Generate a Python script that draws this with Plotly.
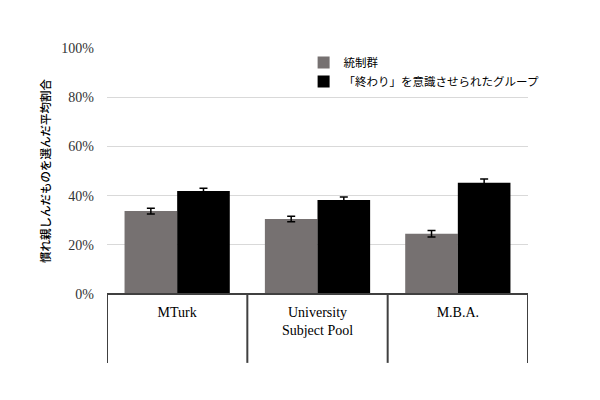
import plotly.graph_objects as go

# %% Data
categories = ['MTurk', 'University<br>Subject Pool', 'M.B.A.']
control_name = '統制群'
ending_name = '「終わり」を意識させられたグループ'
control_values = [0.337, 0.305, 0.245]
control_err = [0.012, 0.011, 0.013]
ending_values = [0.419, 0.382, 0.452]
ending_err = [0.011, 0.012, 0.015]

serif = 'Liberation Serif, Times New Roman, serif'
cjk = 'Noto Sans CJK JP, sans-serif'
line_color = '#404040'

# %% Figure
fig = go.Figure()
fig.add_trace(
    go.Bar(
        x=categories,
        y=control_values,
        name=control_name,
        marker=dict(color='#767171', line=dict(width=0)),
        error_y=dict(type='data', array=control_err, color='black', thickness=1.5, width=4),
    )
)
fig.add_trace(
    go.Bar(
        x=categories,
        y=ending_values,
        name=ending_name,
        marker=dict(color='black', line=dict(width=0)),
        error_y=dict(type='data', array=ending_err, color='black', thickness=1.5, width=4),
    )
)

# table-like frame under the bars
for i in range(len(categories) + 1):
    fig.add_shape(type='line', xref='x', yref='paper', x0=i - 0.5, x1=i - 0.5, y0=0, y1=-0.28,
                  line=dict(color=line_color, width=2))
fig.add_shape(type='line', xref='x', yref='paper', x0=-0.5, x1=len(categories) - 0.5, y0=0, y1=0,
              line=dict(color=line_color, width=2))

# the page adds an 8px body margin, so margins are shifted to compensate
fig.update_layout(
    width=600,
    height=400,
    margin=dict(l=99, r=80, t=40, b=114),
    plot_bgcolor='white',
    paper_bgcolor='white',
    barmode='group',
    bargap=0.25,
    bargroupgap=0,
    showlegend=True,
    legend=dict(
        x=0.467, y=1.0, xanchor='left', yanchor='top',
        font=dict(family=cjk, size=11.5, color='black'),
        bgcolor='rgba(0,0,0,0)',
        tracegroupgap=9,
        itemwidth=30,
    ),
    xaxis=dict(
        range=[-0.5, len(categories) - 0.5],
        showgrid=False,
        showline=False,
        ticks='',
        ticklabelstandoff=8,
        tickfont=dict(family=serif, size=14, color='black'),
    ),
    yaxis=dict(
        range=[0, 1],
        tickvals=[0, 0.2, 0.4, 0.6, 0.8, 1.0],
        tickformat='.0%',
        tickfont=dict(family=serif, size=14, color='#333333'),
        showgrid=True,
        gridcolor='#d9d9d9',
        gridwidth=1,
        zeroline=False,
        showline=False,
        ticks='',
        ticklabelstandoff=12,
        title=dict(
            text='慣れ親しんだものを選んだ平均割合',
            font=dict(family=cjk, size=11.5, color='black', weight=500),
            standoff=8,
        ),
    ),
)

fig.write_html('out.html')
